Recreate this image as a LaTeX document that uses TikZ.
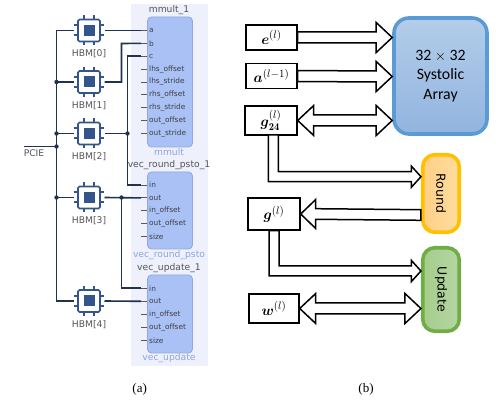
\documentclass[tikz,border=0pt]{standalone}
\usepackage{amsmath}
\usepackage{amssymb}
\usepackage{fontspec}
\usetikzlibrary{calc}
\newfontfamily\vivadofont{DejaVu Sans}
\newfontfamily\officefont{Carlito}
\newfontfamily\captionfont{Liberation Serif}
\definecolor{panelbg}{HTML}{EEF0FC}
\definecolor{blockbg}{HTML}{A9C1F5}
\definecolor{blockedge}{HTML}{8FA8E0}
\definecolor{chipblue}{HTML}{34548C}
\definecolor{wirenavy}{HTML}{1F3350}
\definecolor{namegrey}{HTML}{555555}
\definecolor{nameblue}{HTML}{8FA5DE}
\tikzset{
	ipblock/.style={draw=blockedge, fill=blockbg, rounded corners=4pt, line width=0.8pt, minimum width=45pt, inner sep=0pt},
	portname/.style={anchor=west, inner sep=0pt, font=\vivadofont\fontsize{7.4}{8}\selectfont, text=black!75},
	blockname/.style={inner sep=0pt, font=\vivadofont\fontsize{9.2}{10}\selectfont, text=namegrey},
	typename/.style={inner sep=0pt, font=\vivadofont\fontsize{9.2}{10}\selectfont, text=nameblue},
	chipbody/.style={draw=chipblue, fill=white, line width=1.6pt, rounded corners=1.5pt, minimum size=22pt, inner sep=0pt, outer sep=4.5pt},
	chipcore/.style={fill=chipblue, minimum size=11pt, inner sep=0pt},
	chippin/.style={draw=chipblue, line width=2pt},
	wire/.style={draw=wirenavy, line width=1.6pt},
	tick/.style={draw=black!65, line width=0.9pt},
	busdot/.style={circle, fill=wirenavy, minimum size=4.4pt, inner sep=0pt},
	databox/.style={draw=black, fill=white, line width=1.4pt, inner sep=0pt, font=\fontsize{15}{16}\selectfont},
	unit/.style={line width=3.6pt, rounded corners=12pt, inner sep=0pt, align=center},
	rightblock/.style={draw=black, fill=white, line width=1.5pt, to path={
		($(\tikztostart)+(0,-5.5)$) -- ($(\tikztotarget)+(-16,-5.5)$) -- ++(0,-9.5) -- (\tikztotarget)
		-- ++(-16,15) -- ++(0,-9.5) -- ($(\tikztostart)+(0,5.5)$) -- cycle}},
	leftblock/.style={draw=black, fill=white, line width=1.5pt, to path={
		(\tikztostart) -- ++(15,-14.5) -- ++(0,9.2) -- ($(\tikztotarget)+(0,-5.3)$)
		-- ($(\tikztotarget)+(0,5.3)$) -- ($(\tikztostart)+(15,5.3)$) -- ++(0,9.2) -- cycle}},
	bothblock/.style={draw=black, fill=white, line width=1.5pt, to path={
		(\tikztostart) -- ++(16,-15) -- ++(0,9.5) -- ($(\tikztotarget)+(-16,-5.5)$) -- ++(0,-9.5) -- (\tikztotarget)
		-- ++(-16,15) -- ++(0,-9.5) -- ($(\tikztostart)+(16,5.5)$) -- ++(0,9.5) -- cycle}},
	bentblock/.style={draw=black, fill=white, line width=1.5pt, to path={
		($(\tikztostart)+(-5,0)$) |- ($(\tikztotarget)+(-9.5,5)$) -- ++(0,5.5) -- (\tikztotarget)
		-- ++(-9.5,-10.5) -- ++(0,5.5) -| ($(\tikztostart)+(5,0)$) -- cycle}},
}
\begin{document}
\begin{tikzpicture}[x=1pt, y=-1pt]
	\useasboundingbox (0,0) rectangle (496,403);
	% vivado panel
	\fill[panelbg] (131,4) rectangle (208,366);
	\node[ipblock, minimum height=130pt] (mmult) at (170,82) {};
	\node[ipblock, minimum height=77pt] (round) at (170,210.5) {};
	\node[ipblock, minimum height=78pt] (update) at (170,314) {};
	\node[blockname] (mmultname) at (169,10) {mmult\_1};
	\node[typename] (mmulttype) at (169,152) {mmult};
	\node[blockname] (roundname) at (169,165) {vec\_round\_psto\_1};
	\node[typename] (roundtype) at (169,255) {vec\_round\_psto};
	\node[blockname] (updatename) at (169,268) {vec\_update\_1};
	\node[typename] (updatetype) at (169,358) {vec\_update};
	% ports
	\foreach \lbl [count=\i] in {a,b,c,lhs\_offset,lhs\_stride,rhs\_offset,rhs\_stride,out\_offset,out\_stride}{
		\node[portname] (mmultport\i) at (149,30.5+\i*12.875-12.875) {\lbl};
		\coordinate (mmultpin\i) at (141,30.5+\i*12.875-12.875);
		\draw[tick] (mmultpin\i) -- ++(6,0);
	}
	\foreach \lbl [count=\i] in {in,out,in\_offset,out\_offset,size}{
		\node[portname] (roundport\i) at (149,185+\i*12.9-12.9) {\lbl};
		\coordinate (roundpin\i) at (141,185+\i*12.9-12.9);
		\draw[tick] (roundpin\i) -- ++(6,0);
		\node[portname] (updateport\i) at (149,288.3+\i*13-13) {\lbl};
		\coordinate (updatepin\i) at (141,288.3+\i*13-13);
		\draw[tick] (updatepin\i) -- ++(6,0);
	}
	% memory chips
	\foreach \i/\y in {0/30.5,1/82,2/133.5,3/197.5,4/301}{
		\foreach \p in {-5,5}{
			\draw[chippin] (89+\p,\y-11) -- ++(0,-4);
			\draw[chippin] (89+\p,\y+11) -- ++(0,4);
			\draw[chippin] (78+0,\y+\p) -- ++(-4,0);
			\draw[chippin] (100+0,\y+\p) -- ++(4,0);
		}
		\node[chipbody] (hbm\i) at (89,\y) {};
		\node[chipcore] (core\i) at (hbm\i.center) {};
		\node[blockname] (hbmname\i) at (89,\y+23.5) {HBM[\i]};
	}
	% pcie bus
	\coordinate (bustop) at (56.5,30.5);
	\coordinate (busbottom) at (56.5,301);
	\coordinate (pcie) at (24,146.5);
	\draw[wire] (hbm0.west) -- (bustop) -- (busbottom) -- (hbm4.west);
	\foreach \i in {1,2,3}
		\draw[wire] (hbm\i.west) -- (hbm\i.west -| bustop) node[busdot] (busdot\i) {};
	\draw[wire] (pcie) -- (pcie -| bustop) node[busdot] (busdotp) {};
	\node[blockname] (pcielabel) at (34,153.5) {PCIE};
	% memory to ports
	\coordinate (riser1) at (121.5,43.5);
	\coordinate (riser2) at (127.5,56.25);
	\coordinate (riser3) at (121.5,288);
	\draw[wire] (hbm0.east) -- (mmultpin1);
	\draw[wire] (hbm1.east) -| (riser1) -- (mmultpin2);
	\draw[wire] (hbm2.east) -- (hbm2.east -| riser2) node[busdot] (hbm2dot) {};
	\draw[wire] (mmultpin3) -- (riser2) -- (riser2 |- roundpin1) -- (roundpin1);
	\draw[wire] (hbm3.east) -- (roundpin2);
	\draw[wire] (updatepin1) -- (updatepin1 -| riser3) -- (riser3 |- hbm3.east) node[busdot] (hbm3dot) {};
	\draw[wire] (hbm4.east) -- (updatepin2);
	% data registers
	\node[databox, minimum width=51pt, minimum height=25pt] (e) at (271.5,37.5) {$\boldsymbol{e}^{(l)}$};
	\node[databox, minimum width=51pt, minimum height=25pt] (a) at (271.5,76) {$\boldsymbol{a}^{(l-1)}$};
	\node[databox, minimum width=52pt, minimum height=29pt] (g24) at (271,120.5) {$\boldsymbol{g}^{(l)}_{\mathbf{24}}$};
	\node[databox, minimum width=52pt, minimum height=32pt] (g) at (274,214) {$\boldsymbol{g}^{(l)}$};
	\node[databox, minimum width=50pt, minimum height=29pt] (w) at (274,308.5) {$\boldsymbol{w}^{(l)}$};
	% compute units
	\node[unit, draw={rgb,255:red,91;green,155;blue,213}, top color={rgb,255:red,179;green,205;blue,233}, bottom color={rgb,255:red,146;green,180;blue,224}, minimum width=93pt, minimum height=116pt, rounded corners=15pt, font=\officefont\fontsize{15.8}{19.5}\selectfont] (systolic) at (440.5,76) {32 $\times$ 32\\Systolic\\Array};
	\node[unit, draw={rgb,255:red,255;green,192;blue,0}, left color={rgb,255:red,255;green,207;blue,135}, right color={rgb,255:red,255;green,221;blue,158}, minimum width=36.5pt, minimum height=77.5pt, font=\vivadofont\fontsize{12.5}{14}\selectfont] (rounder) at (441,193.5) {\rotatebox{-90}{Round}};
	\node[unit, draw={rgb,255:red,112;green,173;blue,71}, left color={rgb,255:red,165;green,205;blue,140}, right color={rgb,255:red,181;green,214;blue,163}, minimum width=36.5pt, minimum height=83.5pt, font=\vivadofont\fontsize{12.5}{14}\selectfont] (updater) at (441,289.5) {\rotatebox{-90}{Update}};
	% block arrows
	\coordinate (etip) at (systolic.west |- e.east);
	\coordinate (atip) at (systolic.west |- 0,76.5);
	\coordinate (gtip) at (systolic.west |- g24.east);
	\coordinate (g24out) at (273.3,135);
	\coordinate (roundtip) at (rounder.west |- 0,176.7);
	\coordinate (roundout) at (rounder.west |- 0,215);
	\coordinate (updatetip) at (updater.west |- 0,271);
	\coordinate (wtip) at (updater.west |- w.east);
	\draw[rightblock] (e.east) to (etip);
	\draw[rightblock] (a.east) to (atip);
	\draw[bothblock] (g24.east) to (gtip);
	\draw[bentblock] (g24out) to (roundtip);
	\draw[leftblock] (g.east) to (roundout);
	\draw[bentblock] (g.south) to (updatetip);
	\draw[bothblock] (w.east) to (wtip);
	% captions
	\node[font=\captionfont\fontsize{13}{15}\selectfont] (captiona) at (139.7,389) {(a)};
	\node[font=\captionfont\fontsize{13}{15}\selectfont] (captionb) at (366,389) {(b)};
\end{tikzpicture}
\end{document}
